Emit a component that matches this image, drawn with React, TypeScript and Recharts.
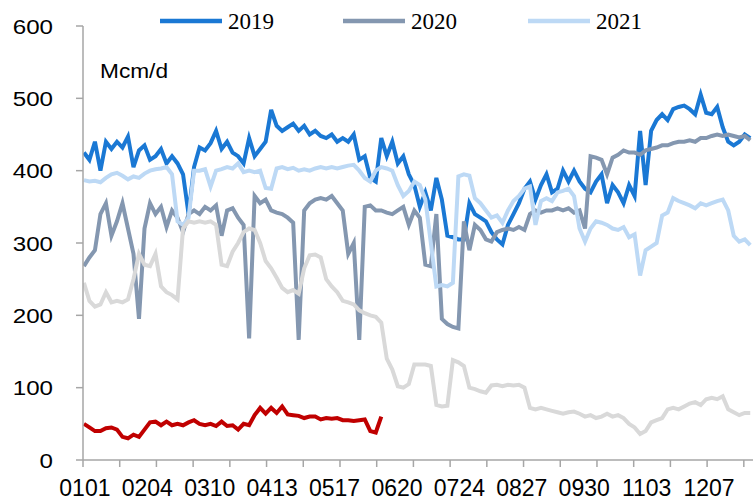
import React from 'react';
import { LineChart, Line, XAxis, YAxis, Legend } from 'recharts';

// category labels on the x axis (one every 34 days), tick marks every 20 days
const X_LABELS = ['0101', '0204', '0310', '0413', '0517', '0620', '0724', '0827', '0930', '1103', '1207'];
const LABEL_EVERY = 34;
const TICK_EVERY = 20;
const STEP = 3; // values read every 3 days
const Y_TICKS = [0, 100, 200, 300, 400, 500, 600];

const S2019 = [
  425, 415, 440, 400, 440, 430, 440, 432, 447, 405,
  428, 435, 415, 420, 430, 410, 420, 410, 395, 340,
  405, 432, 428, 438, 455, 430, 440, 425, 420, 410,
  445, 420, 430, 440, 484, 462, 455, 460, 465, 455,
  462, 450, 455, 448, 445, 450, 440, 445, 440, 450,
  415, 420, 390, 385, 445, 420, 440, 410, 420, 395,
  380, 350, 370, 345, 390, 360, 310, 308, 305, 305,
  355, 340, 335, 330, 315, 305, 298, 325, 340, 355,
  375, 385, 360, 380, 395, 370, 375, 400, 385, 400,
  385, 375, 370, 385, 395, 355, 380, 370, 355, 380,
  365, 455, 380, 455, 470, 478, 470, 485, 488, 490,
  485, 478, 505, 480, 478, 488, 460, 440, 435, 440,
  450, 445,
];

const S2020 = [
  268, 280, 290, 340, 355, 310, 330, 355, 320, 285,
  195, 320, 355, 340, 350, 322, 345, 335, 315, 340,
  345, 340, 350, 345, 352, 310, 345, 348, 335, 325,
  168, 365, 355, 360, 345, 342, 340, 335, 328, 166,
  345, 355, 360, 362, 360, 365, 355, 345, 285, 300,
  166, 350, 352, 345, 345, 342, 340, 345, 350, 325,
  345, 335, 270, 268, 340, 195, 188, 184, 182, 330,
  290, 325, 318, 305, 302, 315, 318, 320, 318, 322,
  318, 340, 345, 342, 345, 345, 348, 345, 348, 342,
  345, 320, 420, 418, 415, 395, 418, 422, 428, 425,
  425, 422, 428, 430, 432, 435, 435, 438, 440, 440,
  442, 440, 445, 445, 448, 450, 448, 450, 448, 446,
  448, 442,
];

const S2021 = [
  387, 385, 386, 384, 390, 395, 397, 393, 388, 392,
  390, 396, 400, 402, 403, 405, 395, 330, 325, 335,
  400, 400, 402, 378, 400, 402, 405, 403, 410, 398,
  400, 398, 400, 376, 375, 403, 405, 402, 404, 400,
  402, 400, 403, 405, 403, 405, 403, 405, 407, 408,
  400, 390, 385, 400, 405, 403, 400, 380, 365, 372,
  385, 380, 360, 300, 240, 242, 240, 245, 392, 395,
  393, 362, 355, 345, 335, 338, 328, 345, 358, 365,
  375, 378, 325, 358, 362, 358, 370, 372, 375, 365,
  320, 302, 320, 330, 328, 325, 320, 318, 322, 308,
  312, 255, 290, 295, 300, 338, 342, 362, 358, 355,
  352, 348, 355, 352, 355, 358, 360, 345, 310, 302,
  305, 297,
];

const S2022 = [
  245, 220, 212, 215, 232, 218, 220, 218, 222, 250,
  285, 270, 268, 285, 240, 232, 228, 222, 320, 330,
  328, 330, 328, 330, 325, 270, 268, 288, 300, 315,
  320, 318, 300, 275, 265, 252, 238, 232, 235, 230,
  265, 283, 284, 280, 250, 240, 232, 220, 218, 215,
  207, 203, 200, 198, 190, 140, 125, 102, 100, 105,
  132, 132, 132, 130, 76, 74, 75, 138, 135, 130,
  100, 98, 95, 93, 103, 104, 102, 104, 103, 104,
  100, 72, 70, 72, 70, 68, 66, 64, 66, 67,
  64, 60, 62, 58, 60, 64, 60, 62, 58, 50,
  45, 36, 40, 52, 55, 58, 70, 72, 70, 74,
  78, 80, 76, 84, 86, 84, 88, 70, 66, 62,
  65, 65,
];

const S2023 = [
  50, 45, 40, 40, 44, 45, 42, 32, 30, 35,
  32, 42, 52, 53, 48, 53, 48, 50, 48, 52,
  55, 50, 48, 50, 47, 53, 47, 48, 42, 50,
  48, 62, 72, 64, 72, 65, 74, 63, 62, 61,
  58, 60, 60, 56, 58, 57, 58, 55, 55, 54,
  55, 56, 40, 38, 60,
];

const data = S2019.map((v, i) => ({
  day: i * STEP + 0.5,
  s2019: v,
  s2020: S2020[i],
  s2021: S2021[i],
  s2022: S2022[i],
  s2023: i < S2023.length ? S2023[i] : null,
}));

const tickMarks = Array.from({ length: 19 }, (_, i) => i * TICK_EVERY);
const labelTicks = X_LABELS.map((_, k) => k * LABEL_EVERY + 0.5);
const xTicks = [...tickMarks, ...labelTicks].sort((a, b) => a - b);

const AXIS = '#A6A6A6';
const LEGEND_X = [160, 343, 528];

const XTick = (props: any) => {
  const { x, y, payload } = props;
  const v = payload.value;
  if (Number.isInteger(v)) {
    return <line x1={x} x2={x} y1={y} y2={y + 7} stroke={AXIS} strokeWidth={1.5} />;
  }
  const label = X_LABELS[Math.round((v - 0.5) / LABEL_EVERY)];
  return (
    <text
      x={x + 1}
      y={y + 36}
      textAnchor="middle"
      fontSize={23}
      fontFamily="Liberation Sans, Arial, sans-serif"
      fill="#000"
    >
      {label}
    </text>
  );
};

const YTick = (props: any) => {
  const { x, y, payload } = props;
  return (
    <text
      transform={`translate(${x},${y}) scale(1.15,1)`}
      textAnchor="end"
      dy="0.36em"
      fontSize={21}
      fontFamily="Liberation Sans, Arial, sans-serif"
      fill="#000"
    >
      {payload.value}
    </text>
  );
};

const renderLegend = (props: any) => {
  const items = (props.payload || []).filter((p: any) => ['2019', '2020', '2021'].includes(p.value));
  return (
    <svg width={753} height={40}>
      {items.map((p: any, i: number) => (
        <g key={p.value}>
          <line x1={LEGEND_X[i]} x2={LEGEND_X[i] + 62} y1={21} y2={21} stroke={p.color} strokeWidth={4.5} />
          <text x={LEGEND_X[i] + 68} y={29} fontSize={23} fontFamily="Liberation Serif, Times New Roman, serif" fill="#000">
            {p.value}
          </text>
        </g>
      ))}
    </svg>
  );
};

export default function App() {
  return (
    <div style={{ position: 'absolute', left: 0, top: 0, width: 753, height: 502, background: '#fff' }}>
      <LineChart width={753} height={502} data={data} margin={{ top: 26, right: 0, bottom: 0, left: 0 }}>
        <XAxis
          dataKey="day"
          type="number"
          domain={[0, 365]}
          ticks={xTicks}
          interval={0}
          tickSize={0}
          tickMargin={0}
          tickLine={false}
          tick={<XTick />}
          height={42}
          stroke={AXIS}
          strokeWidth={1.5}
          allowDataOverflow
        />
        <YAxis
          domain={[0, 600]}
          ticks={Y_TICKS}
          interval={0}
          tickSize={7}
          tickMargin={23}
          tick={<YTick />}
          width={83}
          stroke={AXIS}
          strokeWidth={1.5}
        />
        <Legend
          layout="horizontal"
          verticalAlign="middle"
          align="center"
          wrapperStyle={{ top: 0, left: 0, width: 753, height: 40 }}
          content={renderLegend}
        />
        <Line name="2019" dataKey="s2019" stroke="#1A78D4" strokeWidth={4} dot={false} isAnimationActive={false} />
        <Line name="2020" dataKey="s2020" stroke="#8497B0" strokeWidth={4} dot={false} isAnimationActive={false} />
        <Line name="2021" dataKey="s2021" stroke="#BDD9F5" strokeWidth={4} dot={false} isAnimationActive={false} />
        <Line name="2022" dataKey="s2022" stroke="#D9D9D9" strokeWidth={4} dot={false} legendType="none" isAnimationActive={false} />
        <Line name="2023" dataKey="s2023" stroke="#C00000" strokeWidth={4} dot={false} legendType="none" isAnimationActive={false} />
      </LineChart>
      <svg width={753} height={100} style={{ position: 'absolute', left: 0, top: 0, pointerEvents: 'none' }}>
        <text x={100} y={78} fontSize={20} fontFamily="Liberation Sans, Arial, sans-serif" textLength={68} lengthAdjust="spacingAndGlyphs" fill="#000">
          Mcm/d
        </text>
      </svg>
    </div>
  );
}
